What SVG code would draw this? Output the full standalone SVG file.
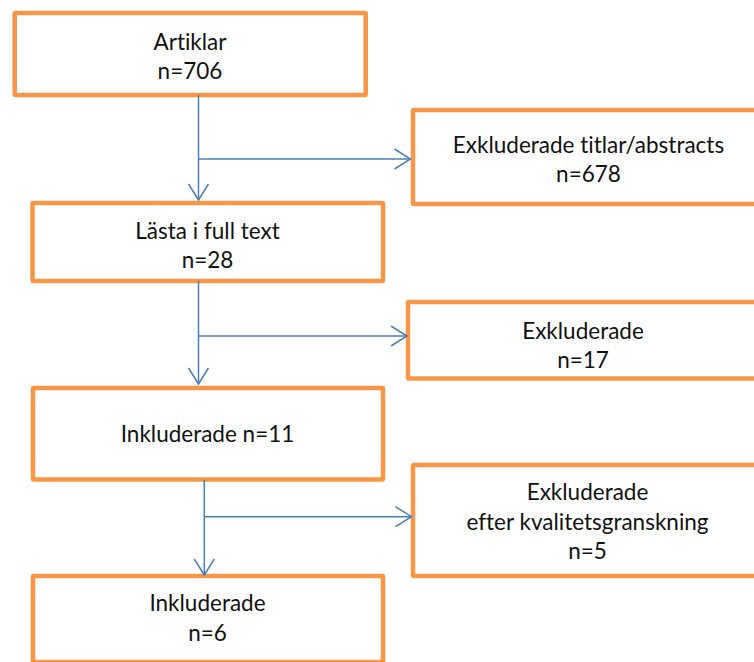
<svg xmlns="http://www.w3.org/2000/svg" width="754" height="662" viewBox="0 0 754 662">
<style>
.box{fill:#fff;stroke:#F79646;stroke-width:4.5;stroke-linejoin:round}
.t{font-family:Lato,"Open Sans","Liberation Sans",sans-serif;font-size:22.5px;fill:#111;text-anchor:middle;font-variant-ligatures:none;font-feature-settings:"liga" 0,"clig" 0}
.c{fill:none;stroke:#4A7EBB;stroke-width:1.5}
</style>
<defs>
<marker id="ah" markerUnits="userSpaceOnUse" markerWidth="40" markerHeight="40" viewBox="-20 -20 40 40" refX="0" refY="0" orient="auto" overflow="visible">
<path d="M-16,-10 L0,0 L-16,10" fill="none" stroke="#4A7EBB" stroke-width="1.5"/>
</marker>
</defs>
<rect width="754" height="662" fill="#fff"/>
<g id="n1"><rect class="box" x="14.7" y="13" width="351" height="82" rx="1"/><text class="t" x="190" y="49.5">Artiklar</text><text class="t" x="190" y="78.5">n=706</text></g>
<g id="n2"><rect class="box" x="413" y="110" width="350" height="94" rx="1"/><text class="t" x="588.5" y="153">Exkluderade titlar/abstracts</text><text class="t" x="588.5" y="181.5">n=678</text></g>
<g id="n3"><rect class="box" x="32.5" y="203" width="350.5" height="78" rx="1"/><text class="t" x="207.5" y="238.5">Lästa i full text</text><text class="t" x="207.5" y="267.5">n=28</text></g>
<g id="n4"><rect class="box" x="408" y="302" width="350" height="76.5" rx="1"/><text class="t" x="583" y="338.5">Exkluderade</text><text class="t" x="583" y="367.5">n=17</text></g>
<g id="n5"><rect class="box" x="33" y="388" width="350" height="91.5" rx="1"/><text class="t" x="207.5" y="441.7">Inkluderade n=11</text></g>
<g id="n6"><rect class="box" x="33" y="576" width="350" height="86" rx="1"/><text class="t" x="207.5" y="611">Inkluderade</text><text class="t" x="207.5" y="640.5">n=6</text></g>
<g id="n7"><rect class="box" x="413" y="465" width="350" height="111" rx="1"/><text class="t" x="587.5" y="500">Exkluderade</text><text class="t" x="587.5" y="529.5">efter kvalitetsgranskning</text><text class="t" x="587.5" y="558.5">n=5</text></g>
<g id="connectors">
<path class="c" d="M198.5,95 V200" marker-end="url(#ah)"/>
<path class="c" d="M198.5,159 H410.5" marker-end="url(#ah)"/>
<path class="c" d="M198.5,281 V384" marker-end="url(#ah)"/>
<path class="c" d="M198.5,336 H407" marker-end="url(#ah)"/>
<path class="c" d="M204.3,480 V575" marker-end="url(#ah)"/>
<path class="c" d="M204.3,516.7 H411.5" marker-end="url(#ah)"/>
</g>
</svg>
